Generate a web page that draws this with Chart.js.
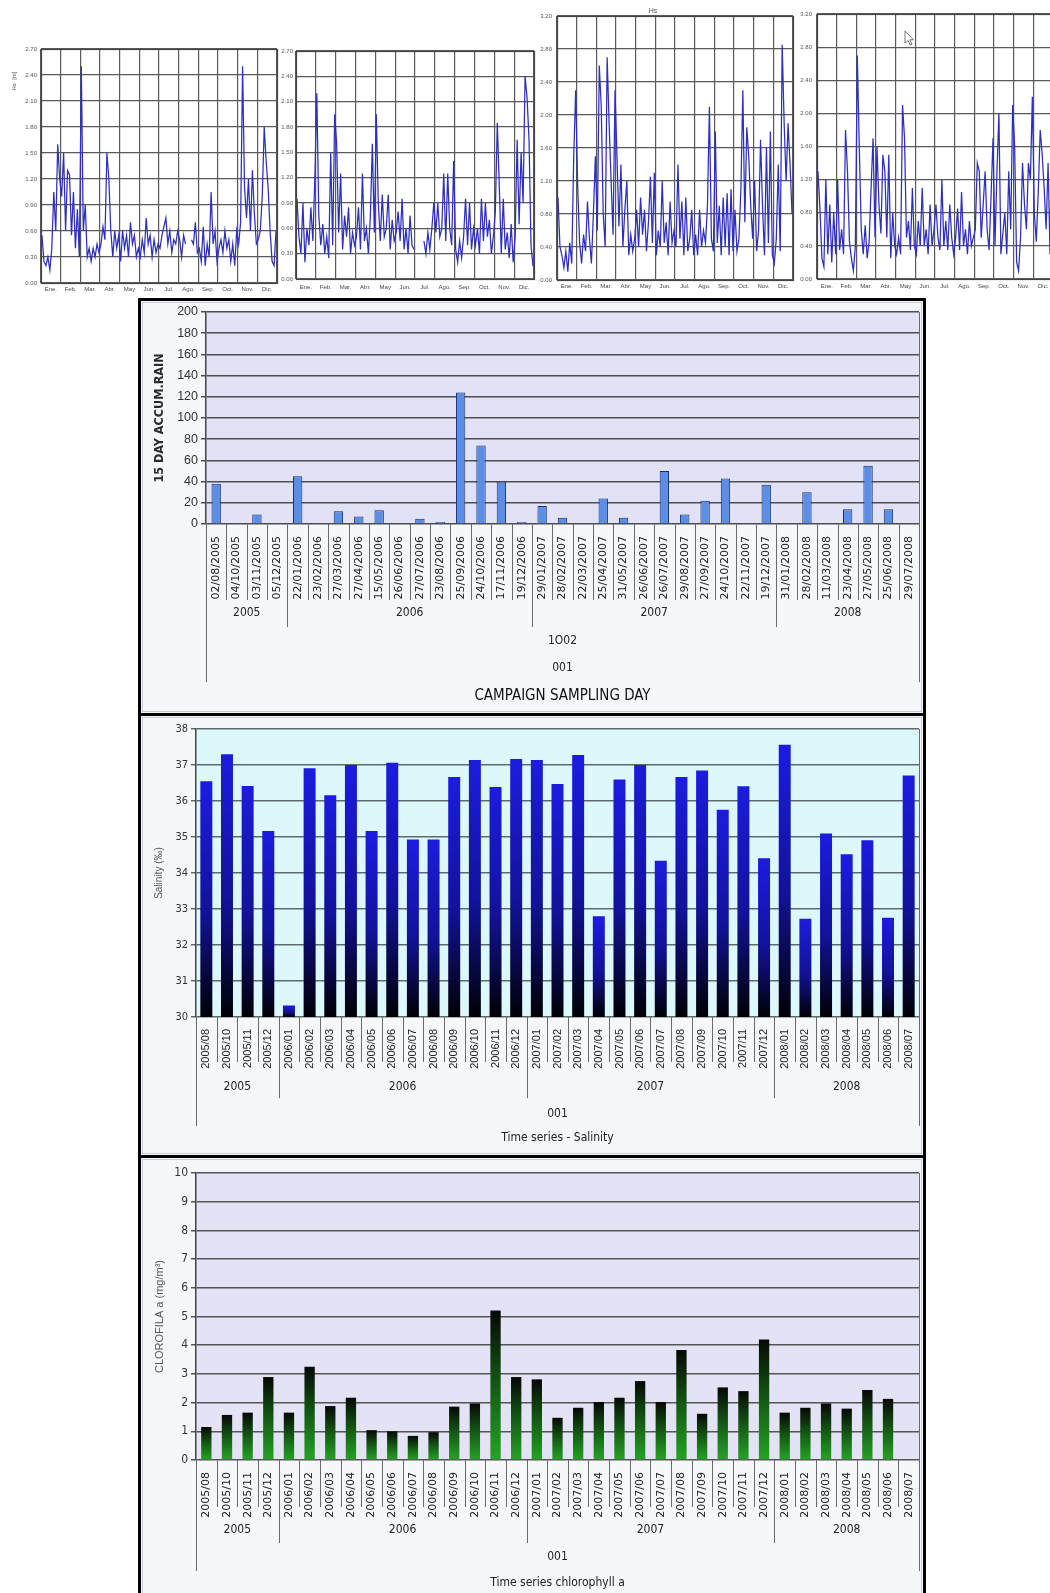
<!DOCTYPE html>
<html>
<head>
<meta charset="utf-8">
<title>Oceanographic time series</title>
<script src="https://cdn.jsdelivr.net/npm/chart.js@4.4.1/dist/chart.umd.min.js"></script>
<style>
  html, body { margin:0; padding:0; background:#fff; }
  body { position:relative; width:1050px; height:1593px; overflow:hidden; }
  canvas { position:absolute; display:block; }
  .frame { position:absolute; box-sizing:border-box; border:3px solid #000; background:#f5f7fb; }
  .inner { position:absolute; box-sizing:border-box; border:1px solid #c6cad2; }
</style>
</head>
<body>
<canvas id="hsA" width="281" height="260" style="left:0;top:40px"></canvas>
<canvas id="hsB" width="257" height="258" style="left:281px;top:40px"></canvas>
<canvas id="hsC" width="258" height="296" style="left:538px;top:4px"></canvas>
<canvas id="hsD" width="264" height="296" style="left:796px;top:4px"></canvas>

<div class="frame" style="left:138px;top:298px;width:788px;height:418px"></div>
<div class="inner" style="left:142px;top:302px;width:780px;height:410px"></div>
<canvas id="rain" width="782" height="412" style="left:141px;top:301px"></canvas>

<div class="frame" style="left:138px;top:713px;width:788px;height:445px"></div>
<div class="inner" style="left:142px;top:717px;width:780px;height:437px"></div>
<canvas id="sal" width="782" height="439" style="left:141px;top:716px"></canvas>

<div class="frame" style="left:138px;top:1155px;width:788px;height:450px"></div>
<div class="inner" style="left:142px;top:1159px;width:780px;height:450px"></div>
<canvas id="chl" width="782" height="435" style="left:141px;top:1158px"></canvas>

<script>
// ---- Significant wave height, one year per panel, 10 readings per month ----
const waveMonths = ['Ene.','Feb.','Mar.','Abr.','May','Jun.','Jul.','Ago.','Sep.','Oct.','Nov.','Dic.'];

const hsA = [
  0.55,0.25,0.2,0.3,0.15,0.4,1.05,0.6,1.6,1.2,
  1.0,1.5,0.6,1.3,1.25,0.55,1.05,0.4,0.85,0.3,
  2.5,0.6,0.9,0.3,0.4,0.25,0.4,0.3,0.45,0.35,
  0.45,0.65,0.5,1.5,1.2,0.6,0.3,0.6,0.4,0.55,
  0.25,0.6,0.4,0.55,0.3,0.7,0.45,0.55,0.3,0.4,
  0.3,0.5,0.35,0.75,0.45,0.55,0.3,0.5,0.35,0.45,
  0.4,0.55,0.65,0.75,0.45,0.6,0.35,0.5,0.45,0.6,
  0.5,0.3,0.55,0.45,null,null,0.5,0.45,0.7,0.35,
  0.4,0.25,0.65,0.2,0.45,0.3,1.05,0.45,0.6,0.25,
  0.4,0.5,0.35,0.6,0.4,0.5,0.25,0.45,0.2,0.6,
  0.45,0.7,2.5,1.1,0.75,1.2,0.6,1.3,0.8,0.45,
  0.5,0.6,1.0,1.8,1.4,1.1,0.6,0.25,0.2,0.6
];
const hsB = [
  0.95,0.5,0.3,0.9,0.2,0.6,0.4,0.85,0.45,1.2,
  2.2,0.75,0.4,0.65,0.3,0.5,0.25,1.5,0.4,1.95,
  1.6,0.55,1.25,0.35,0.75,0.5,0.85,0.3,0.55,0.4,
  0.5,0.85,0.35,1.25,0.45,0.6,0.3,0.75,1.6,0.55,
  1.95,0.9,0.45,1.0,0.5,0.6,1.0,0.35,0.7,0.45,
  0.55,0.8,0.45,0.95,0.35,0.6,0.3,0.75,0.4,0.35,
  null,null,null,null,0.45,0.3,0.55,0.35,0.6,0.9,
  0.55,0.9,0.5,0.6,1.25,0.45,1.25,0.6,0.4,1.4,
  0.35,0.2,0.45,0.25,0.5,0.95,0.4,0.9,0.35,0.6,
  0.4,0.6,0.3,0.95,0.45,0.9,0.5,0.7,0.3,0.5,
  0.8,1.85,1.1,0.3,0.95,0.35,0.55,0.25,0.65,0.2,
  0.5,1.65,0.65,1.5,0.9,2.4,2.15,1.65,0.4,0.15
];
const hsC = [
  1.0,0.4,0.3,0.15,0.35,0.1,0.45,0.2,1.5,2.3,
  1.15,0.45,0.2,0.55,0.35,0.95,0.5,0.2,0.8,1.5,
  0.6,2.6,2.1,0.8,0.4,2.7,1.9,1.2,0.55,2.3,
  1.5,0.65,1.4,0.4,0.85,1.2,0.3,0.55,0.35,0.5,
  0.85,0.4,1.0,0.55,0.85,0.35,0.7,1.25,0.45,1.3,
  0.3,0.6,0.4,1.2,0.45,0.7,0.3,0.95,0.45,0.6,
  0.4,1.4,0.5,0.95,0.3,1.0,0.35,0.5,0.85,0.3,
  0.55,0.3,0.85,0.4,0.6,0.45,0.9,2.1,0.5,0.35,
  1.8,0.45,0.9,0.3,1.0,0.4,1.05,0.3,1.1,0.35,
  0.85,0.35,0.5,1.1,2.3,0.7,1.85,1.5,0.9,0.5,
  1.2,0.35,0.6,1.7,0.9,0.3,1.6,0.45,1.8,0.3,
  0.2,0.5,1.4,0.35,2.85,1.9,1.2,1.9,1.4,0.8
];
const hsD = [
  1.3,0.85,0.25,0.15,1.2,0.3,0.9,0.2,0.8,0.3,
  1.2,0.35,0.6,0.3,1.8,1.3,0.45,0.25,0.1,0.4,
  2.7,1.6,0.6,0.3,0.65,0.25,0.45,1.1,1.7,0.5,
  1.6,0.9,0.55,1.5,1.3,0.5,1.5,0.25,0.8,0.4,
  0.3,0.5,0.3,2.1,1.7,0.5,0.7,0.35,1.1,0.4,
  0.3,0.7,0.4,1.1,0.4,0.6,0.3,0.9,0.4,0.6,
  0.9,0.5,0.35,1.2,0.4,0.7,0.35,0.9,0.5,0.3,
  0.5,0.85,0.35,1.05,0.4,0.6,0.3,0.7,0.4,0.5,
  0.6,1.4,1.3,0.5,0.9,1.3,0.6,0.35,1.0,1.7,
  0.4,1.3,2.0,0.3,0.55,0.8,0.3,1.3,0.6,2.1,
  1.6,0.2,0.1,0.5,1.4,0.9,0.6,1.4,1.2,2.2,
  0.8,0.45,1.05,1.8,1.5,1.1,0.6,1.4,0.3,2.5
];

// ---- 15-day accumulated rain per campaign sampling day ----
const rainDays = ['02/08/2005','04/10/2005','03/11/2005','05/12/2005',
  '22/01/2006','23/02/2006','27/03/2006','27/04/2006','15/05/2006','26/06/2006',
  '27/07/2006','23/08/2006','25/09/2006','24/10/2006','17/11/2006','19/12/2006',
  '29/01/2007','28/02/2007','22/03/2007','25/04/2007','31/05/2007','26/06/2007',
  '26/07/2007','29/08/2007','27/09/2007','24/10/2007','22/11/2007','19/12/2007',
  '31/01/2008','28/02/2008','11/03/2008','23/04/2008','27/05/2008','25/06/2008','29/07/2008'];
const rainMm = [38,1,9,1, 45,1,12,7,13,0,5,2,124,74,40,2, 17,6,0,24,6,1,50,9,22,43,1,37, 0,30,1,14,55,14,0];

// ---- Monthly campaigns: salinity and chlorophyll a ----
const sampleMonths = ['2005/08','2005/10','2005/11','2005/12',
  '2006/01','2006/02','2006/03','2006/04','2006/05','2006/06','2006/07','2006/08','2006/09','2006/10','2006/11','2006/12',
  '2007/01','2007/02','2007/03','2007/04','2007/05','2007/06','2007/07','2007/08','2007/09','2007/10','2007/11','2007/12',
  '2008/01','2008/02','2008/03','2008/04','2008/05','2008/06','2008/07'];
const salinity = [36.55,37.3,36.42,35.17, 30.32,36.91,36.16,37.0,35.17,37.06,34.93,34.93,36.67,37.14,36.39,37.17,
  37.14,36.47,37.28,32.8,36.6,37.0,34.34,36.67,36.85,35.76,36.41,34.41, 37.56,32.73,35.1,34.52,34.91,32.76,36.71];
const chlorophyll = [1.15,1.57,1.65,2.89, 1.65,3.25,1.88,2.17,1.04,1.0,0.84,0.97,1.86,1.97,5.21,2.89,
  2.81,1.47,1.82,2.02,2.17,2.75,2.02,3.83,1.61,2.53,2.4,4.2, 1.65,1.82,1.97,1.79,2.44,2.13,null];

const SANS = '"Liberation Sans", Arial, sans-serif';
const COND = '"DejaVu Sans Condensed", "Liberation Sans Narrow", sans-serif';
const DEJA = '"DejaVu Sans", sans-serif';
Chart.defaults.font.family = SANS;
Chart.defaults.animation = false;

// ---------- wave height panels ----------
function wavePanel(id, values, yMax, yStep, lay, extra) {
  const monthLabels = {
    id: 'monthLabels',
    afterDraw(chart) {
      const {ctx, chartArea: a, scales: {x}} = chart;
      ctx.save();
      ctx.strokeStyle = '#444'; ctx.lineWidth = 1.2;
      ctx.strokeRect(Math.round(a.left) + 0.5, Math.round(a.top) + 0.5, Math.round(a.right - a.left), Math.round(a.bottom - a.top));
      ctx.fillStyle = '#444'; ctx.font = '6px ' + SANS;
      ctx.textAlign = 'center'; ctx.textBaseline = 'middle';
      waveMonths.forEach((m, i) => ctx.fillText(m, x.getPixelForValue(i + 0.5), a.bottom + lay.labelDy));
      ctx.restore();
      if (extra) extra(chart);
    }
  };
  new Chart(document.getElementById(id), {
    type: 'line',
    data: { datasets: [{
      data: values.map((v, i) => ({ x: (i + 0.5) / 10, y: v })),
      borderColor: '#2e2ec0', borderWidth: 1.25, pointRadius: 0, tension: 0, spanGaps: false
    }]},
    options: {
      responsive: false, events: [],
      plugins: { legend: { display: false }, tooltip: { enabled: false } },
      layout: { padding: { top: lay.top, right: lay.right, left: 0, bottom: 0 } },
      scales: {
        x: { type: 'linear', min: 0, max: 12,
             ticks: { display: false, stepSize: 1 },
             grid: { color: '#5a5a5a', lineWidth: 1.2, drawTicks: false },
             border: { display: false },
             afterFit(s) { s.height = lay.xh; s.paddingLeft = 0; s.paddingRight = 0; } },
        y: { min: 0, max: yMax,
             ticks: { stepSize: yStep, font: { size: 6 }, color: '#555', padding: lay.tickPad,
                      callback: v => Number(v).toFixed(2) },
             grid: { color: '#5a5a5a', lineWidth: 1.2, drawTicks: false },
             border: { display: false },
             afterFit(s) { s.width = lay.yw; s.paddingTop = 0; s.paddingBottom = 0; } }
      }
    },
    plugins: [monthLabels]
  });
}

wavePanel('hsA', hsA, 2.7, 0.3, { top: 9, right: 4, xh: 17, yw: 41, labelDy: 6, tickPad: 4 }, chart => {
  const ctx = chart.ctx;
  ctx.save();
  ctx.translate(14, 41); ctx.rotate(-Math.PI / 2);
  ctx.fillStyle = '#555'; ctx.font = '6px ' + SANS;
  ctx.textAlign = 'center'; ctx.textBaseline = 'middle';
  ctx.fillText('Hs  [m]', 0, 0);
  ctx.restore();
});
wavePanel('hsB', hsB, 2.7, 0.3, { top: 11, right: 4, xh: 19, yw: 15, labelDy: 8, tickPad: 3 });
wavePanel('hsC', hsC, 3.2, 0.4, { top: 12, right: 3, xh: 20, yw: 19, labelDy: 6, tickPad: 5 }, chart => {
  const ctx = chart.ctx;
  ctx.save();
  ctx.fillStyle = '#555'; ctx.font = '7px ' + SANS; ctx.textAlign = 'center';
  ctx.fillText('Hs', 115, 9);
  ctx.restore();
});
wavePanel('hsD', hsD, 3.2, 0.4, { top: 10, right: 7, xh: 21, yw: 21, labelDy: 7, tickPad: 5 }, chart => {
  // mouse pointer left over the panel
  const ctx = chart.ctx;
  ctx.save();
  ctx.translate(109, 27);
  ctx.beginPath();
  ctx.moveTo(0, 0); ctx.lineTo(0, 12); ctx.lineTo(3, 9.5); ctx.lineTo(5.2, 14);
  ctx.lineTo(7, 13.2); ctx.lineTo(4.8, 8.8); ctx.lineTo(8.5, 8.8); ctx.closePath();
  ctx.fillStyle = '#fff'; ctx.fill();
  ctx.strokeStyle = '#555'; ctx.lineWidth = 0.8; ctx.stroke();
  ctx.restore();
});

// ---------- bar panels with grouped category axis ----------
const plotBg = {
  id: 'plotBg',
  beforeDraw(chart, args, o) {
    const {ctx, chartArea: a} = chart;
    ctx.save(); ctx.fillStyle = o.color;
    ctx.fillRect(a.left, a.top, a.right - a.left, a.bottom - a.top);
    ctx.restore();
  }
};

const groupRows = {
  id: 'groupRows',
  afterDraw(chart, args, o) {
    const {ctx, chartArea: a, scales: {x}} = chart;
    const labels = chart.data.labels;
    const n = labels.length;
    const step = x.getPixelForValue(1) - x.getPixelForValue(0);
    const edge = i => x.getPixelForValue(i) - step / 2;
    const b = a.bottom;
    const years = labels.map(o.yearOf);
    ctx.save();
    ctx.strokeStyle = o.lineColor; ctx.lineWidth = 1;
    const vline = (px, y0, y1) => {
      const xx = Math.round(px) + 0.5;
      ctx.beginPath(); ctx.moveTo(xx, y0); ctx.lineTo(xx, y1); ctx.stroke();
    };
    for (let i = 1; i < n; i++) {
      vline(edge(i), b, b + (years[i] !== years[i - 1] ? o.yearSep : o.sep));
    }
    vline(a.left, b, b + o.outer);
    vline(a.right, a.top, b + o.outer);
    ctx.fillStyle = '#222'; ctx.textAlign = 'center'; ctx.textBaseline = 'middle';
    ctx.font = o.yearFont;
    let start = 0;
    for (let i = 1; i <= n; i++) {
      if (i === n || years[i] !== years[start]) {
        ctx.fillText(years[start], (edge(start) + edge(i)) / 2, b + o.year);
        start = i;
      }
    }
    const mid = (a.left + a.right) / 2;
    o.rows.forEach(r => { ctx.font = r.font; ctx.fillStyle = r.color || '#222'; ctx.fillText(r.text, mid, b + r.dy); });
    ctx.restore();
  }
};

function gradientFill(top, mid, bottom, midAt) {
  return c => {
    const ch = c.chart;
    if (!ch.chartArea || c.raw == null) return top;
    const y = ch.scales.y;
    const t = y.getPixelForValue(c.raw), base = y.getPixelForValue(y.min);
    const g = ch.ctx.createLinearGradient(0, t, 0, base);
    g.addColorStop(0, top); g.addColorStop(midAt, mid); g.addColorStop(1, bottom);
    return g;
  };
}

function barPanel(id, cfg) {
  new Chart(document.getElementById(id), {
    type: 'bar',
    data: { labels: cfg.labels, datasets: [{
      data: cfg.values,
      backgroundColor: cfg.fill, borderColor: cfg.border || 'transparent', borderWidth: cfg.border ? 1 : 0,
      categoryPercentage: 1, barPercentage: cfg.barPct, borderSkipped: 'bottom'
    }]},
    options: {
      responsive: false, events: [],
      plugins: { legend: { display: false }, tooltip: { enabled: false },
                 plotBg: { color: cfg.bg }, groupRows: cfg.groups },
      layout: { padding: { top: cfg.top, right: 4, left: 0, bottom: 0 } },
      scales: {
        x: { ticks: { minRotation: 90, maxRotation: 90, autoSkip: false, padding: 4,
                      font: cfg.catFont, color: '#222' },
             grid: { display: false }, border: { display: false },
             afterFit(s) { s.height = cfg.xh; s.paddingLeft = 0; s.paddingRight = 0; } },
        y: { min: cfg.yMin, max: cfg.yMax,
             ticks: { stepSize: cfg.yStep, font: cfg.tickFont, color: '#333', padding: 3 },
             grid: { color: cfg.gridColor, lineWidth: 1.5, tickLength: 5, drawTicks: true },
             border: { display: true, color: '#444', width: 1.5 },
             title: { display: true, text: cfg.yTitle, font: cfg.titleFont, color: cfg.titleColor,
                      padding: { top: cfg.titlePad, bottom: 0 } },
             afterFit(s) { s.width = cfg.yw; s.paddingTop = 0; s.paddingBottom = 0; } }
      }
    },
    plugins: [plotBg, groupRows]
  });
}

barPanel('rain', {
  labels: rainDays, values: rainMm, barPct: 0.46,
  fill: '#5b8ee6', border: '#1d2d6a',
  bg: '#e2e2f6', gridColor: '#4e4e4e',
  top: 11, xh: 189, yw: 65, yMin: 0, yMax: 200, yStep: 20,
  catFont: { family: DEJA, size: 11 }, tickFont: { family: SANS, size: 12.5 },
  yTitle: '15 DAY ACCUM.RAIN', titleFont: { family: COND, size: 12.5, weight: 'bold' }, titleColor: '#2a2a2a', titlePad: 11,
  groups: { yearOf: s => s.slice(-4), lineColor: '#6a6a6a', sep: 76, yearSep: 103, year: 89, outer: 158,
            yearFont: '12px ' + COND,
            rows: [ { text: '1O02', dy: 117, font: '12px ' + COND },
                    { text: '001', dy: 144, font: '12px ' + COND },
                    { text: 'CAMPAIGN SAMPLING DAY', dy: 172, font: '15px ' + COND, color: '#111' } ] }
});

barPanel('sal', {
  labels: sampleMonths, values: salinity, barPct: 0.58,
  fill: gradientFill('#1c1ce0', '#12129a', '#000004', 0.55),
  bg: '#dcf8fa', gridColor: '#5d6b6b',
  top: 13, xh: 138, yw: 55, yMin: 30, yMax: 38, yStep: 1,
  catFont: { family: SANS, size: 11 }, tickFont: { family: COND, size: 11 },
  yTitle: 'Salinity (‰)', titleFont: { family: SANS, size: 10 }, titleColor: '#555', titlePad: 12,
  groups: { yearOf: s => s.slice(0, 4), lineColor: '#6a6a6a', sep: 45, yearSep: 81, year: 70, outer: 109,
            yearFont: '12px ' + COND,
            rows: [ { text: '001', dy: 97, font: '12px ' + COND },
                    { text: 'Time series - Salinity', dy: 121, font: '12px ' + COND } ] }
});

barPanel('chl', {
  labels: sampleMonths, values: chlorophyll, barPct: 0.5,
  fill: gradientFill('#060806', '#145a14', '#24a424', 0.5),
  bg: '#e3e3f5', gridColor: '#555',
  top: 15, xh: 133, yw: 55, yMin: 0, yMax: 10, yStep: 1,
  catFont: { family: DEJA, size: 11 }, tickFont: { family: COND, size: 12 },
  yTitle: 'CLOROFILA a (mg/m³)', titleFont: { family: SANS, size: 11 }, titleColor: '#555', titlePad: 12,
  groups: { yearOf: s => s.slice(0, 4), lineColor: '#6a6a6a', sep: 47, yearSep: 83, year: 70, outer: 111,
            yearFont: '12px ' + COND,
            rows: [ { text: '001', dy: 97, font: '12px ' + COND },
                    { text: 'Time series chlorophyll a', dy: 123, font: '12px ' + COND } ] }
});
</script>
</body>
</html>
